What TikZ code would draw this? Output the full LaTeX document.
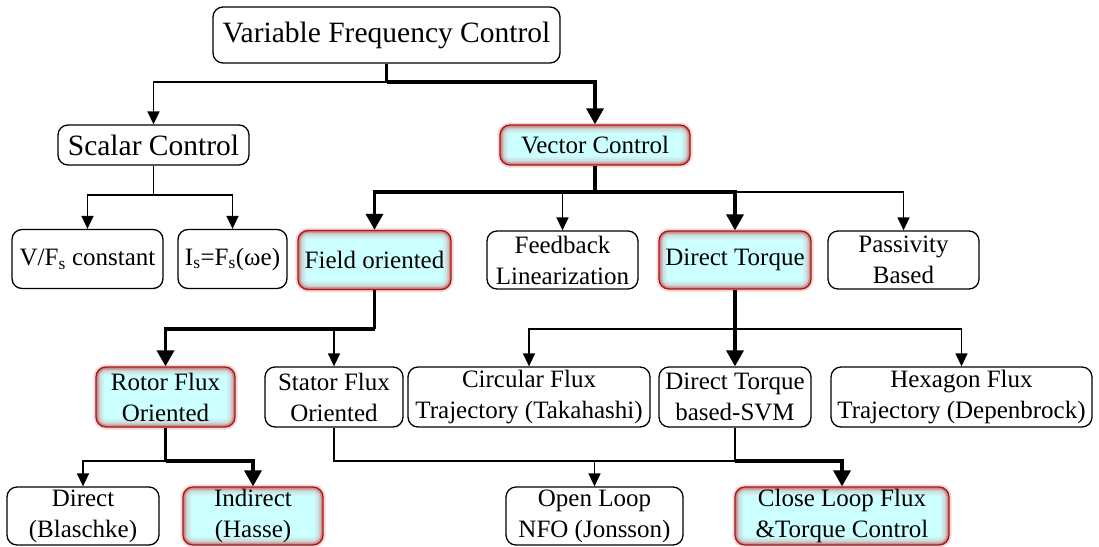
\documentclass[tikz,border=0pt]{standalone}
\usepackage{fontspec}
\setmainfont{Liberation Serif}
\usetikzlibrary{arrows.meta}
\definecolor{hlcyan}{RGB}{204,255,255}
\definecolor{hlred}{RGB}{160,16,16}
\definecolor{glowred}{RGB}{205,45,45}

\begin{document}
\begin{tikzpicture}[x=1pt,y=-1pt,
  box/.style={draw=black, line width=1.3pt, rounded corners=10pt, align=center,
    inner sep=0pt, font=\fontsize{25}{31}\selectfont},
  big/.style={font=\fontsize{29.5}{35}\selectfont},
  hl/.style={box, draw=hlred, fill=hlcyan,
    postaction={draw=glowred, opacity=0.2, line width=5pt, rounded corners=10pt},
    path picture={
      \foreach \w/\o in {16pt/0.06,12pt/0.08,8pt/0.12,5pt/0.16,2.5pt/0.22}
        \draw[glowred, opacity=\o, line width=\w, rounded corners=10pt]
          (path picture bounding box.south west) rectangle (path picture bounding box.north east);}},
  wire/.style={line width=1.5pt},
  fat/.style={line width=3.5pt},
  tip/.style={wire, -{Triangle[width=12pt,length=13pt]}},
  fattip/.style={fat, -{Triangle[width=17pt,length=16pt]}},
]
\useasboundingbox (0,0) rectangle (1099,546);
\clip (0,0) rectangle (1099,546);

% level 0 and 1
\node[box, big, minimum width=347pt, minimum height=56pt] (vfc) at (386.5,35) {Variable Frequency Control};
\node[box, big, minimum width=191pt, minimum height=40pt] (scalar) at (153.5,145) {Scalar Control};
\node[hl, minimum width=190pt, minimum height=40pt] (vector) at (595,145) {Vector Control};

% level 2
\node[box, minimum width=151pt, minimum height=59pt] (vf) at (87.5,259) {V/F\textsubscript{s} constant};
\node[box, minimum width=109pt, minimum height=59pt] (is) at (232.5,259) {I\textsubscript{s}=F\textsubscript{s}(ωe)};
\node[hl, minimum width=153pt, minimum height=59pt] (field) at (374.5,260) {Field oriented};
\node[box, minimum width=151pt, minimum height=58pt] (feedback) at (562.5,260) {Feedback\\Linearization};
\node[hl, minimum width=152pt, minimum height=58pt] (dtorque) at (735,260) {Direct Torque};
\node[box, minimum width=151pt, minimum height=58pt] (passivity) at (903.5,260) {Passivity\\Based};

% level 3
\node[hl, minimum width=139pt, minimum height=60pt] (rotor) at (165.5,397) {Rotor Flux\\Oriented};
\node[box, minimum width=138pt, minimum height=60pt] (stator) at (334,397) {Stator Flux\\Oriented};
\node[box, minimum width=242pt, minimum height=60pt] (circular) at (529,397) {Circular Flux\\Trajectory (Takahashi)};
\node[box, minimum width=152pt, minimum height=60pt] (dtsvm) at (735,397) {Direct Torque\\based-SVM};
\node[box, minimum width=261pt, minimum height=60pt] (hexagon) at (961.5,397) {Hexagon Flux\\Trajectory (Depenbrock)};

% level 4
\node[box, minimum width=152pt, minimum height=58pt] (direct) at (83,516) {Direct\\(Blaschke)};
\node[hl, minimum width=140pt, minimum height=58pt] (indirect) at (253,516) {Indirect\\(Hasse)};
\node[box, minimum width=177pt, minimum height=58pt] (openloop) at (594.5,516) {Open Loop\\NFO (Jonsson)};
\node[hl, minimum width=214pt, minimum height=58pt] (closeloop) at (842,516) {Close Loop Flux\\\&Torque Control};

% branching points
\coordinate (j1) at (vfc.south |- 0,82);
\coordinate (j2) at (scalar.south |- 0,195);
\coordinate (j3) at (vector.south |- 0,192);
\coordinate (j4) at (field.south |- 0,329);
\coordinate (j5) at (dtorque.south |- 0,329);
\coordinate (j6) at (rotor.south |- 0,461);
\coordinate (j7) at (dtsvm.south |- 0,461);

% connectors
\draw[tip] (j1) -| (scalar.north);
\draw[fat] (vfc.south) -- (j1);
\draw[fattip] (j1) -| (vector.north);

\draw[wire] (scalar.south) -- (j2);
\draw[tip] (j2) -| (vf.north);
\draw[tip] (j2) -| (is.north);

\draw[tip] (j3) -| (feedback.north);
\draw[tip] (j3) -| (passivity.north);
\draw[fat] (vector.south) -- (j3);
\draw[fattip] (j3) -| (field.north);
\draw[fattip] (j3) -| (dtorque.north);

\draw[tip] (j4) -| (stator.north);
\draw[fat] (field.south) -- (j4);
\draw[fattip] (j4) -| (rotor.north);

\draw[tip] (j5) -| (circular.north);
\draw[tip] (j5) -| (hexagon.north);
\draw[fattip] (dtorque.south) -- (dtsvm.north);

\draw[tip] (j6) -| (direct.north);
\draw[fat] (rotor.south) -- (j6);
\draw[fattip] (j6) -| (indirect.north);

\draw[wire] (stator.south) |- (j7);
\draw[wire] (dtsvm.south) -- (j7);
\draw[tip] (openloop.north |- j7) -- (openloop.north);
\draw[fattip] (j7) -| (closeloop.north);
\end{tikzpicture}
\end{document}
